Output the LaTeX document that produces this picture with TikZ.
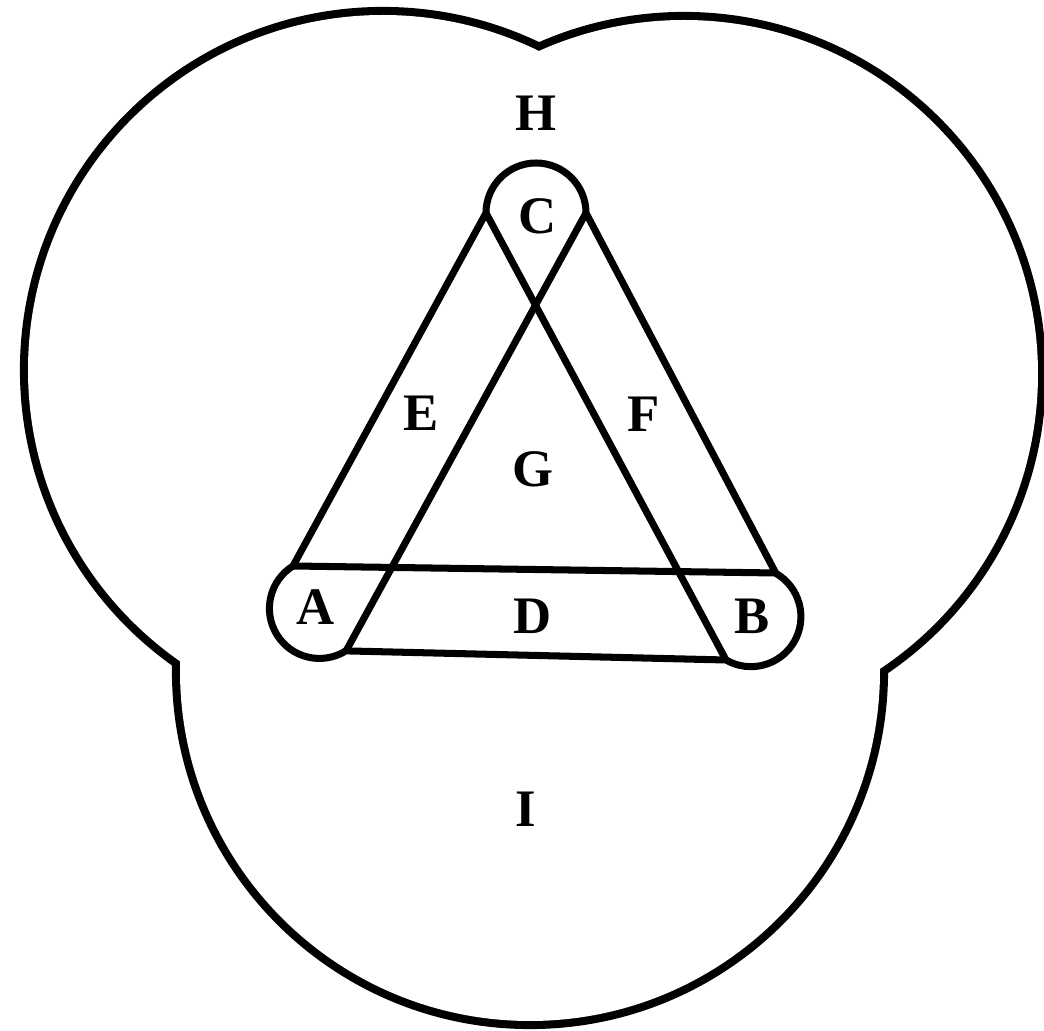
\documentclass[tikz,border=0pt]{standalone}
\usepackage{fontspec}
\setmainfont{Liberation Serif}
\usepackage{tikz}
\usetikzlibrary{calc}

\begin{document}
\begin{tikzpicture}[
  rim/.style={line width=4.6pt},
  band/.style={line width=2pt, line join=round},
  region/.style={font=\fontsize{15}{18}\selectfont\bfseries, inner sep=0pt}]
  \useasboundingbox (0,0) rectangle (10.44,-10.31);

  % Outer boundary: union of three circles
  \coordinate (Lc) at (3.83,-3.70);
  \coordinate (Rc) at (6.84,-3.74);
  \coordinate (Bc) at (5.30,-6.71);
  \draw[rim] (Lc) circle (3.55) (Rc) circle (3.54) (Bc) circle (3.50);
  \fill[white] (Lc) circle (3.55) (Rc) circle (3.54) (Bc) circle (3.50);

  % Junctions of the three bands
  \coordinate (Cl) at (4.86,-2.13);
  \coordinate (Cr) at (5.86,-2.13);
  \coordinate (Al) at (2.93,-5.66);
  \coordinate (Ab) at (3.46,-6.51);
  \coordinate (Br) at (7.76,-5.73);
  \coordinate (Bb) at (7.26,-6.60);

  % Rounded triangle
  \draw[band] (Cl) -- (Al) arc[start angle=121.9, end angle=301.9, radius=0.5]
    -- (Bb) arc[start angle=240.1, end angle=420.1, radius=0.5]
    -- (Cr) arc[start angle=0, end angle=180, radius=0.5] -- cycle;

  % Inner edges of the bands
  \draw[band] (Al) -- (Br);
  \draw[band] (Cr) -- (Ab);
  \draw[band] (Cl) -- (Bb);

  % Region labels
  \node[region] (a) at (3.16,-6.07) {A};
  \node[region] (b) at (7.52,-6.16) {B};
  \node[region] (c) at (5.38,-2.16) {C};
  \node[region] (d) at (5.33,-6.16) {D};
  \node[region] (e) at (4.21,-4.13) {E};
  \node[region] (f) at (6.44,-4.14) {F};
  \node[region] (g) at (5.33,-4.69) {G};
  \node[region] (h) at (5.36,-1.13) {H};
  \node[region] (i) at (5.26,-8.09) {I};
\end{tikzpicture}
\end{document}
